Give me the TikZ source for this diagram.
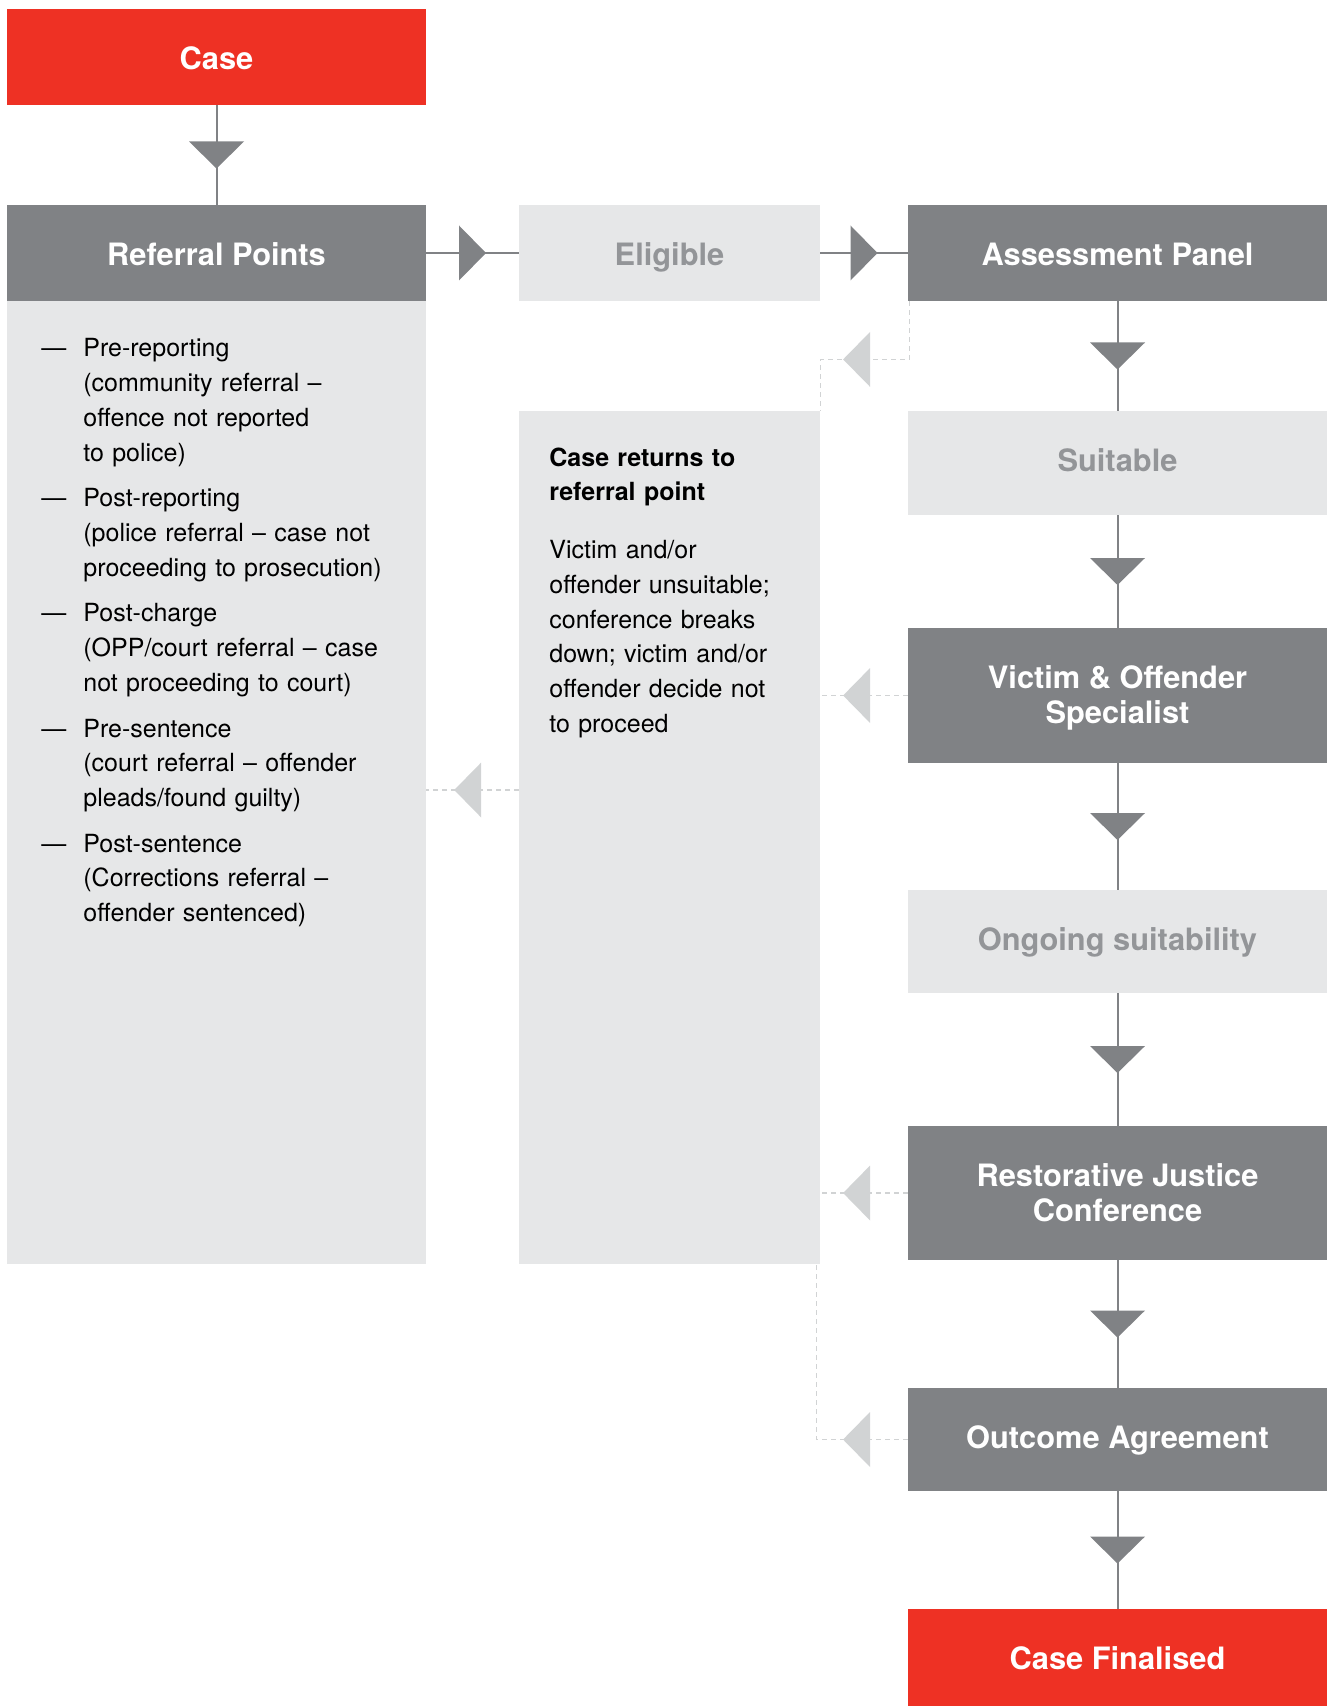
\documentclass[tikz,border=0pt]{standalone}
\usepackage{fontspec}
\setmainfont{TeX Gyre Heros}
\definecolor{casered}{HTML}{EE3124}
\definecolor{boxgray}{HTML}{808285}
\definecolor{panelgray}{HTML}{E6E7E8}
\definecolor{softtext}{HTML}{939598}
\definecolor{dashgray}{HTML}{D1D3D4}
\newcommand{\refpoint}[1]{\makebox[21pt][l]{—}\parbox[t]{170pt}{\strut#1\strut}\par}
\tikzset{
  box/.style={rectangle, inner sep=0pt, align=center, text height=30.3pt,
    font=\fontsize{15.4}{17.5}\selectfont\bfseries},
  twolines/.style={text height=47.8pt},
  redbox/.style={box, fill=casered, text=white},
  darkbox/.style={box, fill=boxgray, text=white},
  lightbox/.style={box, fill=panelgray, text=softtext},
  panel/.style={rectangle, inner sep=0pt, fill=panelgray},
  bodytext/.style={anchor=base west, inner sep=0pt, align=left, font=\fontsize{12.5}{17.35}\selectfont},
  flow/.style={draw=boxgray, line width=1pt},
  back/.style={draw=dashgray, line width=0.75pt, dash pattern=on 2.5pt off 2pt},
  pics/downtip/.style={code={\fill[boxgray] (-27.5,-13.5) -- (27.5,-13.5) -- (0,13.5) -- cycle;}},
  pics/righttip/.style={code={\fill[boxgray] (-13.5,-27.5) -- (-13.5,27.5) -- (13.5,0) -- cycle;}},
  pics/lefttip/.style={code={\fill[dashgray,solid] (13.5,-27.5) -- (13.5,27.5) -- (-13.5,0) -- cycle;}},
}
\begin{document}
\begin{tikzpicture}[x=0.5pt,y=-0.5pt]
  \useasboundingbox (0,0) rectangle (1333,1706);
  % left column
  \node[redbox, minimum width=209.5pt, minimum height=48pt, text depth=17.7pt] (case) at (216.5,57) {Case};
  \node[darkbox, minimum width=209.5pt, minimum height=48pt, text depth=17.7pt] (ref) at (216.5,253) {Referral Points};
  \node[panel, minimum width=209.5pt, minimum height=481.5pt] (refp) at (216.5,782.5) {};
  \node[bodytext, text width=190pt] (reflist) at (41,357) {%
    \refpoint{Pre-reporting\\(community referral –\\offence not reported\\to police)}\vspace{4.5pt}
    \refpoint{Post-reporting\\(police referral – case not\\proceeding to prosecution)}\vspace{4.5pt}
    \refpoint{Post-charge\\(OPP/court referral – case\\not proceeding to court)}\vspace{4.5pt}
    \refpoint{Pre-sentence\\(court referral – offender\\pleads/found guilty)}\vspace{4.5pt}
    \refpoint{Post-sentence\\(Corrections referral –\\offender sentenced)}};
  % middle column
  \node[lightbox, minimum width=150.5pt, minimum height=48pt, text depth=17.7pt] (elig) at (669.5,253) {Eligible};
  \node[panel, minimum width=150.5pt, minimum height=426.5pt] (mid) at (669.5,837.5) {};
  \node[bodytext, text width=130pt] (midtext) at (549,466) {%
    {\bfseries Case returns to\\referral point\par}\vspace{11.7pt}
    Victim and/or\\offender unsuitable;\\conference breaks\\down; victim and/or\\offender decide not\\to proceed};
  % right column
  \node[darkbox, minimum width=209.5pt, minimum height=48pt, text depth=17.7pt] (ap) at (1117.5,253) {Assessment Panel};
  \node[lightbox, minimum width=209.5pt, minimum height=52pt, text depth=21.7pt] (suit) at (1117.5,463) {Suitable};
  \node[darkbox, twolines, minimum width=209.5pt, minimum height=67.5pt, text depth=19.7pt] (vo) at (1117.5,695.5) {Victim \& Offender\\Specialist};
  \node[lightbox, minimum width=209.5pt, minimum height=51.5pt, text depth=21.2pt] (ongo) at (1117.5,941.5) {Ongoing suitability};
  \node[darkbox, twolines, minimum width=209.5pt, minimum height=67pt, text depth=19.2pt] (rj) at (1117.5,1193) {Restorative Justice\\Conference};
  \node[darkbox, minimum width=209.5pt, minimum height=51.5pt, text depth=21.2pt] (out) at (1117.5,1439.5) {Outcome Agreement};
  \node[redbox, minimum width=209.5pt, minimum height=48.5pt, text depth=18.2pt] (fin) at (1117.5,1657.5) {Case Finalised};
  % main flow
  \draw[flow] (case.south) -- pic{downtip} (ref.north);
  \draw[flow] (ref.east) -- pic{righttip} (elig.west);
  \draw[flow] (elig.east) -- pic{righttip} (ap.west);
  \draw[flow] (ap.south) -- pic{downtip} (suit.north);
  \draw[flow] (suit.south) -- pic{downtip} (vo.north);
  \draw[flow] (vo.south) -- pic{downtip} (ongo.north);
  \draw[flow] (ongo.south) -- pic{downtip} (rj.north);
  \draw[flow] (rj.south) -- pic{downtip} (out.north);
  \draw[flow] (out.south) -- pic{downtip} (fin.north);
  % returns
  \coordinate (ret) at (519,790);
  \draw[back] ([xshift=1pt]ap.south west) -- ++(0,58) -| pic[pos=0.297]{lefttip} (mid.north east);
  \draw[back] (vo.west) -- pic[pos=0.585]{lefttip} (vo.west -| mid.east);
  \draw[back] (rj.west) -- pic[pos=0.585]{lefttip} (rj.west -| mid.east);
  \draw[back] (out.west) -| pic[pos=0.28]{lefttip} ([xshift=-2pt]mid.south east);
  \draw[back] (ret) -- pic[pos=0.554]{lefttip} (ret -| refp.east);
\end{tikzpicture}
\end{document}
